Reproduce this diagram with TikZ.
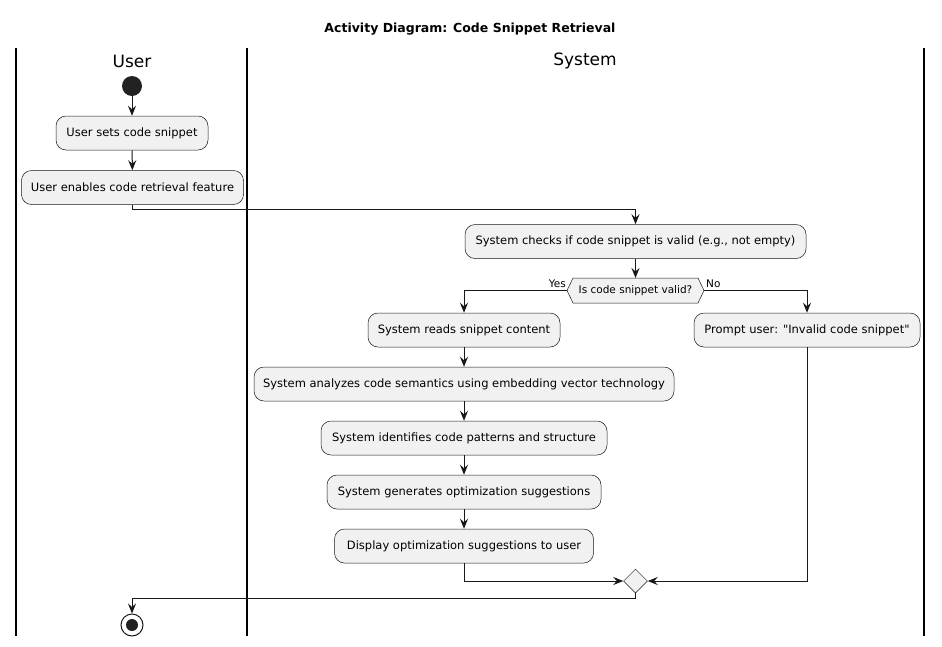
\documentclass[tikz,border=0pt]{standalone}
\usepackage{fontspec}
\setmainfont{DejaVu Sans}[Ligatures=TeXOff]
\usetikzlibrary{arrows.meta,shapes.geometric}
\definecolor{boxfill}{HTML}{F1F1F1}
\definecolor{boxline}{HTML}{181818}
\definecolor{dotfill}{HTML}{222222}
\begin{document}
\begin{tikzpicture}[x=1pt,y=-1pt,
  act/.style={draw=boxline, line width=0.5pt, fill=boxfill, rounded corners=10pt,
    minimum height=34pt, inner xsep=0pt, font=\fontsize{11.5}{14}\selectfont, text=black},
  flow/.style={line width=1pt, draw=boxline, -{Stealth[length=10pt,width=8pt,inset=3.5pt]}},
  lane/.style={line width=1.6pt, draw=black},
  branchlbl/.style={font=\fontsize{10.5}{13}\selectfont, inner sep=0pt},
  lanetitle/.style={font=\fontsize{17}{20}\selectfont, inner sep=0pt}]
\useasboundingbox (0,0) rectangle (942,646);
\fill[white] (0,0) rectangle (942,646);
% title
\node[font=\bfseries\fontsize{12.5}{15}\selectfont, inner sep=0pt] (title) at (470,29) {Activity Diagram: Code Snippet Retrieval};
% swimlanes
\draw[lane] (16,48) -- (16,636);
\draw[lane] (247,48) -- (247,636);
\draw[lane] (924,48) -- (924,636);
\node[lanetitle] (ulane) at (132,61) {User};
\node[lanetitle] (slane) at (585,61) {System};
% nodes
\node[circle, fill=dotfill, minimum size=20pt, inner sep=0pt] (start) at (132,86) {};
\node[act, minimum width=152pt] (a1) at (132,133) {User sets code snippet};
\node[act, minimum width=222pt] (a2) at (132.5,187.5) {User enables code retrieval feature};
\node[act, minimum width=341pt] (a3) at (635.5,241.5) {System checks if code snippet is valid (e.g., not empty)};
\coordinate (decL) at (567,290.5);
\coordinate (decR) at (704,290.5);
\coordinate (decT) at (635.5,278);
\draw[draw=boxline, line width=0.5pt, fill=boxfill] (decL) -- (573,278) -- (698,278) -- (decR) -- (698,303) -- (573,303) -- cycle;
\node[font=\fontsize{10.5}{13}\selectfont, inner sep=0pt] (dec) at (635.5,290.5) {Is code snippet valid?};
\node[act, minimum width=192pt] (a4) at (464,330) {System reads snippet content};
\node[act, minimum width=226pt] (a5) at (807,330) {Prompt user: "Invalid code snippet"};
\node[act, minimum width=420pt] (a6) at (464,384) {System analyzes code semantics using embedding vector technology};
\node[act, minimum width=286pt] (a7) at (464,438) {System identifies code patterns and structure};
\node[act, minimum width=274pt] (a8) at (464,492) {System generates optimization suggestions};
\node[act, minimum width=259pt] (a9) at (464,546) {Display optimization suggestions to user};
\node[diamond, draw=boxline, line width=0.5pt, fill=boxfill, minimum width=24pt, minimum height=24pt, inner sep=0pt] (merge) at (635.5,581) {};
\node[circle, draw=boxline, line width=1pt, fill=white, minimum size=22pt, inner sep=0pt] (end) at (132,625) {};
\node[circle, fill=dotfill, minimum size=12pt, inner sep=0pt] (endin) at (132,625) {};
% labels
\node[branchlbl, anchor=base east] (yes) at (566,287) {Yes};
\node[branchlbl, anchor=base west] (no) at (706,287) {No};
% connectors
\draw[flow] (start) -- (a1);
\draw[flow] (a1) -- (a2);
\draw[flow] (a2.south) -- ++(0,5) -| (a3.north);
\draw[flow] (a3) -- (decT);
\draw[flow] (decL) -| (a4.north);
\draw[flow] (decR) -| (a5.north);
\draw[flow] (a4) -- (a6);
\draw[flow] (a6) -- (a7);
\draw[flow] (a7) -- (a8);
\draw[flow] (a8) -- (a9);
\draw[flow] (a9.south) |- (merge.west);
\draw[flow] (a5.south) |- (merge.east);
\draw[flow] (merge.south) -- ++(0,5) -| (end.north);
\end{tikzpicture}
\end{document}
